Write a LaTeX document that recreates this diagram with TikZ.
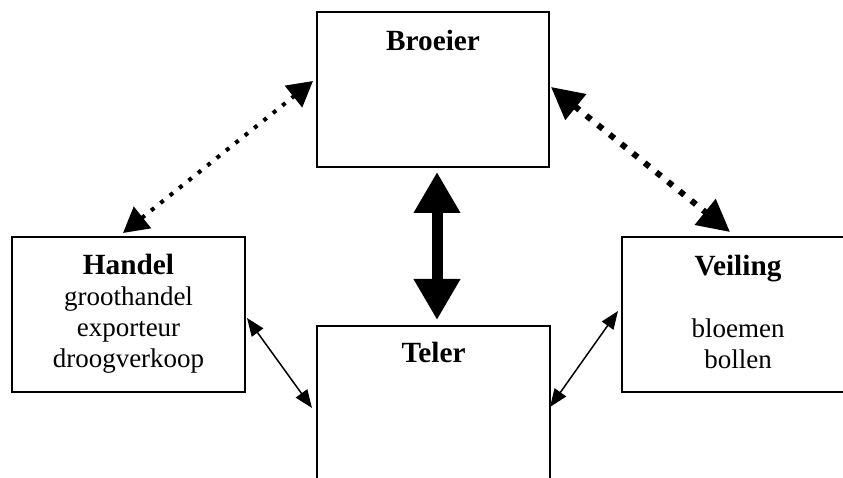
\documentclass[tikz,border=0pt]{standalone}
\usepackage{fontspec}
\setmainfont{Liberation Serif}
\usetikzlibrary{arrows.meta, positioning}

\newcommand\boxtitle[1]{{\fontsize{29.3}{31}\selectfont\bfseries #1}}

\begin{document}
\begin{tikzpicture}[x=1pt, y=1pt,
		box/.style={draw=black, line width=1.5pt, rectangle, anchor=north west, inner sep=0pt, outer sep=0pt, minimum width=232pt, minimum height=155pt},
		boxtext/.style={align=center, inner sep=0pt, anchor=north, font=\fontsize{27}{31}\selectfont},
		dotlink/.style={line width=4pt, dash pattern=on 4pt off 8pt, >={Triangle[length=25pt,width=27pt]}, <->},
		thinlink/.style={line width=1.5pt, >={Triangle[length=18pt,width=14pt]}, <->}]
			\clip (0,0) rectangle (843,478);
			\node [box] (broeier) at (317,466) {};
			\node [box, minimum width=233pt] (handel) at (12,241) {};
			\node [box, minimum width=233pt] (teler) at (317,152) {};
			\node [box] (veiling) at (622,241) {};
			\node [boxtext, below=18pt of broeier.north] (broeiertext) {\boxtitle{Broeier}};
			\node [boxtext, below=17pt of handel.north] (handeltext) {\boxtitle{Handel}\\groothandel\\exporteur\\droogverkoop};
			\node [boxtext, below=16pt of teler.north] (telertext) {\boxtitle{Teler}};
			\node [boxtext, below=18pt of veiling.north] (veilingtext) {\boxtitle{Veiling}\\[31pt]bloemen\\bollen};
			\draw [dotlink] ([shift={(111pt,4pt)}]handel.north west) -- ([shift={(-4pt,-69pt)}]broeier.north west);
			\draw [dotlink, line width=6pt, dash pattern=on 6pt off 9pt, >={Triangle[length=32pt,width=32pt]}] ([shift={(2pt,-75pt)}]broeier.north east) -- ([shift={(108pt,5pt)}]veiling.north west);
			\draw [line width=11pt, >={Triangle[length=41pt,width=44pt]}, <->] ([shift={(4pt,-5pt)}]broeier.south) -- ([shift={(3.5pt,6pt)}]teler.north);
			\draw [thinlink] ([shift={(2pt,-81pt)}]handel.north east) -- ([shift={(-5pt,-82pt)}]teler.north west);
			\draw [thinlink] ([shift={(0pt,-81pt)}]teler.north east) -- ([shift={(-4pt,-74pt)}]veiling.north west);
		\end{tikzpicture}
\end{document}
